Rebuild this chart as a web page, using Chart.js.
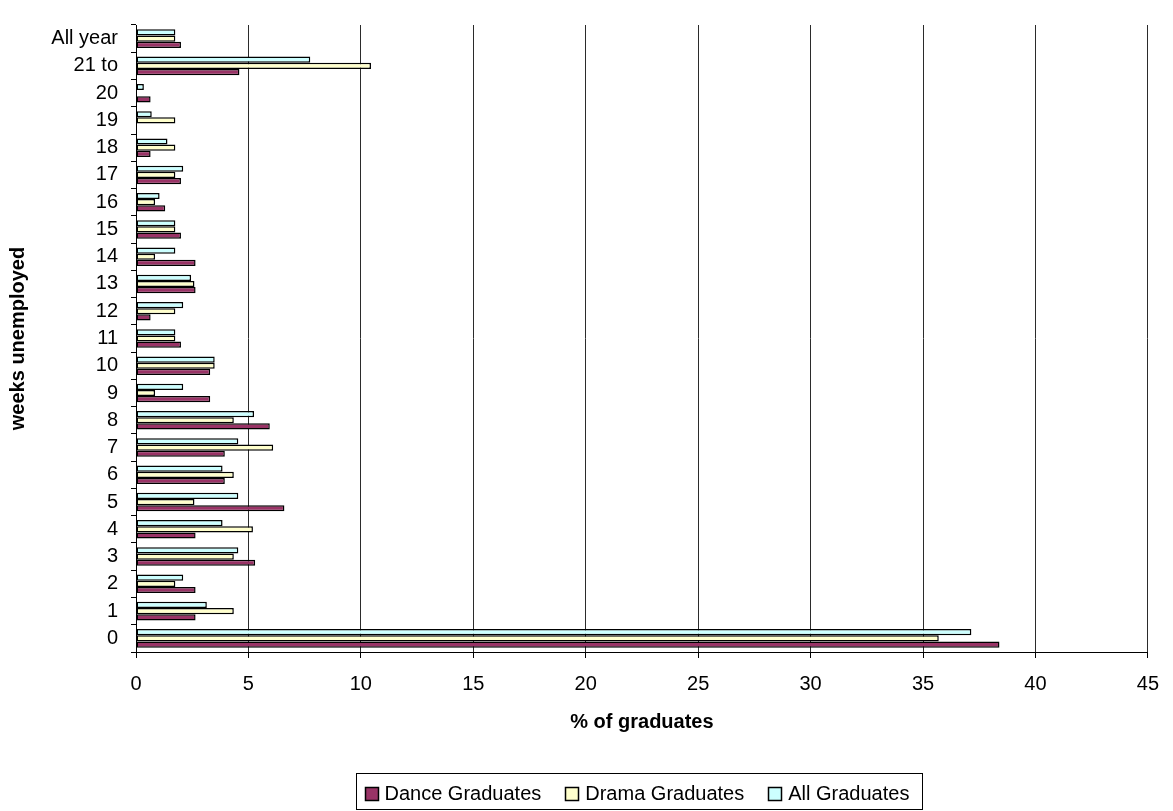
<!DOCTYPE html>
<html>
<head>
<meta charset="utf-8">
<title>Weeks unemployed after graduation</title>
<script src="https://cdn.jsdelivr.net/npm/chart.js@4/dist/chart.umd.min.js"></script>
<style>
  html, body { margin: 0; padding: 0; background: #ffffff; overflow: hidden; }
  #wrap { position: relative; width: 1173px; height: 811px; }
</style>
</head>
<body>
<div id="wrap"><canvas id="chart"></canvas></div>
<script>
// Categories, listed top to bottom as they appear on the axis
const weekLabels = ['All year', '21 to', '20', '19', '18', '17', '16', '15', '14', '13', '12', '11',
                    '10', '9', '8', '7', '6', '5', '4', '3', '2', '1', '0'];

// Percentage of graduates in each band
const allGraduates   = [1.75, 7.75, 0.35, 0.70, 1.40, 2.10, 1.05, 1.75, 1.75, 2.45, 2.10, 1.75,
                        3.50, 2.10, 5.25, 4.55, 3.85, 4.55, 3.85, 4.55, 2.10, 3.15, 37.15];
const dramaGraduates = [1.75, 10.45, 0, 1.75, 1.75, 1.75, 0.85, 1.75, 0.85, 2.60, 1.75, 1.75,
                        3.50, 0.85, 4.35, 6.10, 4.35, 2.60, 5.20, 4.35, 1.75, 4.35, 35.70];
const danceGraduates = [2.00, 4.60, 0.65, 0, 0.65, 2.00, 1.30, 2.00, 2.65, 2.65, 0.65, 2.00,
                        3.30, 3.30, 5.95, 3.95, 3.95, 6.60, 2.65, 5.30, 2.65, 2.65, 38.40];

// Value axis
const xMin = 0;
const xMax = 45;
const xStep = 5;

const FONT = '"Liberation Sans", Arial, Helvetica, sans-serif';
Chart.defaults.font.family = FONT;
Chart.defaults.color = '#000000';

// Legend drawn as a framed row of boxes under the axis title
const framedLegend = {
  id: 'framedLegend',
  afterDraw(chart) {
    const ctx = chart.ctx;
    const sets = chart.data.datasets.slice().reverse();
    ctx.save();
    ctx.font = '20px ' + FONT;
    const sq = 14, gapText = 6, gapItem = 24, padL = 8, padR = 13;
    const widths = sets.map(d => sq + gapText + ctx.measureText(d.label).width);
    const inner = widths.reduce((a, b) => a + b, 0) + gapItem * (sets.length - 1);
    const boxW = inner + padL + padR;
    const cx = (chart.chartArea.left + chart.chartArea.right) / 2 - 3;
    const left = Math.round(cx - boxW / 2) + 0.5;
    const top = chart.height - 37.5;
    const bottom = chart.height - 1.5;
    const midY = Math.round((top + bottom) / 2) + 2;

    ctx.strokeStyle = '#000000';
    ctx.lineWidth = 1;
    ctx.strokeRect(left, top, Math.round(boxW), bottom - top);

    let x = left + padL;
    sets.forEach((d, i) => {
      const bx = Math.round(x) + 0.5;
      const by = Math.round(midY - sq / 2) + 0.5;
      ctx.fillStyle = d.backgroundColor;
      ctx.fillRect(bx, by, sq - 1, sq - 1);
      ctx.lineWidth = 1.5;
      ctx.strokeRect(bx, by, sq - 1, sq - 1);
      ctx.lineWidth = 1;
      ctx.fillStyle = '#000000';
      ctx.textAlign = 'left';
      ctx.textBaseline = 'middle';
      ctx.fillText(d.label, x + sq + gapText, midY);
      x += widths[i] + gapItem;
    });
    ctx.restore();
  }
};

new Chart(document.getElementById('chart'), {
  type: 'bar',
  data: {
    labels: weekLabels,
    datasets: [
      { label: 'All Graduates',   data: allGraduates,   backgroundColor: '#CCFFFF' },
      { label: 'Drama Graduates', data: dramaGraduates, backgroundColor: '#FFFFCC' },
      { label: 'Dance Graduates', data: danceGraduates, backgroundColor: '#993366' }
    ]
  },
  options: {
    indexAxis: 'y',
    responsive: true,
    maintainAspectRatio: false,
    animation: false,
    devicePixelRatio: 1,
    datasets: {
      bar: {
        borderColor: '#000000',
        borderWidth: 1.5,
        borderSkipped: false,
        inflateAmount: 0,
        categoryPercentage: 0.68,
        barPercentage: 1.0
      }
    },
    layout: { padding: { top: 8, right: 15, bottom: 64, left: 0 } },
    plugins: {
      legend: { display: false },
      tooltip: { enabled: false }
    },
    scales: {
      x: {
        type: 'linear',
        position: 'bottom',
        min: xMin,
        max: xMax,
        ticks: {
          stepSize: xStep,
          padding: 14,
          font: { size: 20 },
          color: '#000000'
        },
        grid: {
          color: '#2b2b2b',
          lineWidth: 1,
          drawTicks: true,
          tickLength: 6,
          tickColor: '#000000'
        },
        border: { color: '#000000', width: 1 },
        title: {
          display: true,
          text: '% of graduates',
          font: { size: 20, weight: 'bold' },
          color: '#000000',
          padding: { top: 0, bottom: 13 }
        },
        afterFit(scale) { scale.height = 95; }
      },
      y: {
        type: 'category',
        position: 'left',
        offset: true,
        ticks: {
          padding: 13,
          font: { size: 20 },
          color: '#000000',
          autoSkip: false
        },
        grid: {
          offset: true,
          drawOnChartArea: false,
          drawTicks: true,
          tickLength: 5,
          tickColor: '#000000'
        },
        border: { color: '#000000', width: 1 },
        title: {
          display: true,
          text: 'weeks unemployed',
          font: { size: 20, weight: 'bold' },
          color: '#000000',
          padding: { top: 6, bottom: 0 }
        },
        afterFit(scale) { scale.width = 136; }
      }
    }
  },
  plugins: [framedLegend]
});
</script>
</body>
</html>
